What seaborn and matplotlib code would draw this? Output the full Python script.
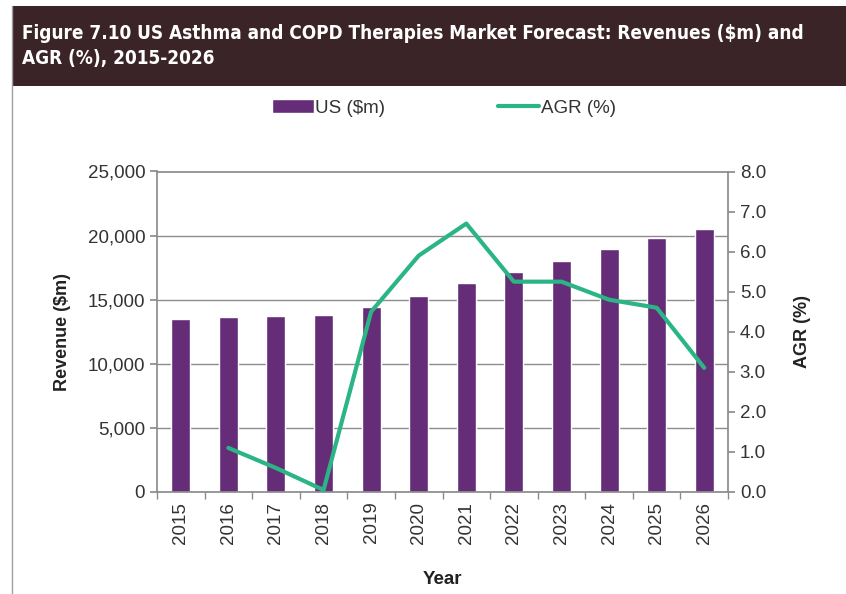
import numpy as np
import pandas as pd
import matplotlib
matplotlib.use('Agg')
import matplotlib.pyplot as plt
from matplotlib.patches import Rectangle
from matplotlib.lines import Line2D
import seaborn as sns

years = ['2015', '2016', '2017', '2018', '2019', '2020',
         '2021', '2022', '2023', '2024', '2025', '2026']
revenue = [13500, 13650, 13750, 13800, 14400, 15250,
           16300, 17150, 18050, 18950, 19850, 20500]
agr = [np.nan, 1.1, 0.6, 0.05, 4.5, 5.9, 6.7, 5.25, 5.25, 4.8, 4.6, 3.1]

title = 'Figure 7.10 US Asthma and COPD Therapies Market Forecast: Revenues ($m) and\nAGR (%), 2015-2026'

bar_color = '#652d77'
line_color = '#2bb585'
grid_color = '#8c8c8c'
text_color = '#333333'

sns.set_theme(style='white')
plt.rcParams['font.family'] = ['Liberation Sans', 'DejaVu Sans']

df = pd.DataFrame({'year': years, 'revenue': revenue, 'agr': agr})
df['pos'] = np.arange(len(df))

fig = plt.figure(figsize=(8.46, 5.94), dpi=100)
fig.patch.set_facecolor('white')

# title banner
fig.patches.append(Rectangle((12 / 846, 1 - 86 / 594), 1 - 12 / 846, 80 / 594,
                             transform=fig.transFigure, facecolor='#3b2428',
                             edgecolor='none', zorder=0))
fig.lines.append(Line2D([12 / 846, 12 / 846], [0, 1 - 6 / 594], transform=fig.transFigure,
                        color='#a0a0a0', lw=1))
t = fig.text(22 / 846, 1 - 46 / 594, title, color='white', fontsize=16.5, fontweight='bold',
             family=['DejaVu Sans'], stretch='condensed', va='center', ha='left',
             linespacing=1.4)
# shrink the title until the first line fits the banner like the original
renderer = fig.canvas.get_renderer()
w = t.get_window_extent(renderer).width
if w > 778:
    t.set_fontsize(16.5 * 778 / w)

ax = fig.add_axes([157 / 846, 1 - 492 / 594, (728 - 157) / 846, (492 - 171.5) / 594])
sns.barplot(data=df, x='year', y='revenue', color=bar_color, width=0.4,
            saturation=1, ax=ax, zorder=2)
ax.set_ylim(0, 25000)
ax.set_yticks(np.arange(0, 25001, 5000))
ax.set_yticklabels([f'{v:,}' for v in range(0, 25001, 5000)])
ax.set_xlim(-0.5, len(years) - 0.5)
ax.yaxis.grid(True, color=grid_color, lw=1)
ax.set_axisbelow(True)
ax.set_xlabel('Year', fontsize=13.5, fontweight='bold', color='#222222', labelpad=20)
ax.set_ylabel('Revenue ($m)', fontsize=13, fontweight='bold', color='#222222', labelpad=12)
ax.tick_params(axis='x', rotation=90, labelsize=13.5, colors=text_color, length=0, pad=7)
ax.tick_params(axis='y', labelsize=13.5, colors=text_color, length=5, color=grid_color,
               direction='out', left=True)
ax.set_xticks(np.arange(-0.5, len(years)), minor=True)
ax.tick_params(axis='x', which='minor', length=5, color=grid_color, bottom=True)
for s in ['left', 'bottom', 'top']:
    ax.spines[s].set_color(grid_color)
ax.spines['right'].set_visible(False)

ax2 = ax.twinx()
sns.lineplot(data=df.dropna(), x='pos', y='agr', color=line_color, lw=3, ax=ax2)
ax2.set_ylim(0, 8)
ax2.set_yticks(np.arange(0, 8.01, 1))
ax2.set_yticklabels([f'{v:.1f}' for v in np.arange(0, 8.01, 1)])
ax2.set_xlim(-0.5, len(years) - 0.5)
ax2.set_ylabel('AGR (%)', fontsize=13, fontweight='bold', color='#222222', labelpad=20)
ax2.tick_params(axis='y', labelsize=13.5, colors=text_color, length=5, color=grid_color,
                direction='out', right=True)
ax2.spines['right'].set_color(grid_color)
for s in ['top', 'left', 'bottom']:
    ax2.spines[s].set_visible(False)
ax2.grid(False)

handles = [Rectangle((0, 0), 1, 1, facecolor=bar_color),
           Line2D([0], [0], color=line_color, lw=3)]
fig.legend(handles, ['US ($m)', 'AGR (%)'], loc='center', bbox_to_anchor=(0.525, 1 - 108 / 594),
           ncol=2, frameon=False, fontsize=13.5, handlelength=2.2, handletextpad=0.1,
           columnspacing=6.0, labelcolor=text_color)

fig.savefig('out.png', dpi=100)
